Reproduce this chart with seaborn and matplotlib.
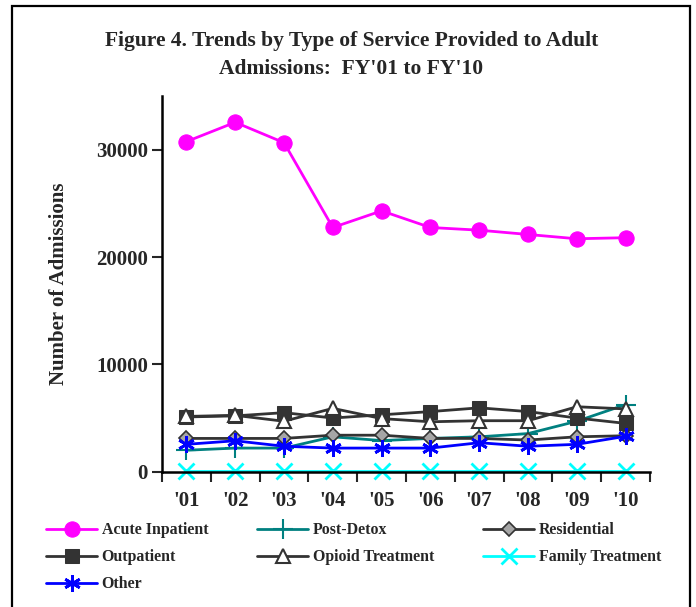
import matplotlib
matplotlib.use("Agg")
import matplotlib.pyplot as plt
import seaborn as sns
import pandas as pd
from matplotlib.patches import Rectangle

# --- Data ---
years = ["'01", "'02", "'03", "'04", "'05", "'06", "'07", "'08", "'09", "'10"]
acute_inpatient = [30750, 32550, 30650, 22750, 24300, 22750, 22500, 22100, 21700, 21800]
post_detox = [2000, 2200, 2200, 3250, 2900, 3100, 3250, 3550, 4700, 6250]
residential = [3100, 3100, 3100, 3400, 3400, 3100, 3100, 2950, 3250, 3350]
outpatient = [5100, 5200, 5500, 5000, 5300, 5600, 5950, 5600, 5000, 4500]
opioid_treatment = [5150, 5250, 4700, 5900, 4950, 4650, 4750, 4750, 6050, 5850]
family_treatment = [60, 60, 60, 60, 60, 60, 60, 60, 60, 60]
other = [2550, 2880, 2370, 2200, 2200, 2200, 2700, 2370, 2550, 3300]

# legend order is column-wise in matplotlib, so list follows that
series = [
    ("Acute Inpatient", acute_inpatient, dict(color="#FF00FF", marker="o", markersize=11,
                                              markerfacecolor="#FF00FF", markeredgecolor="#FF00FF")),
    ("Outpatient", outpatient, dict(color="#333333", marker="s", markersize=10,
                                    markerfacecolor="#333333", markeredgecolor="#333333")),
    ("Other", other, dict(color="#0000FF", marker=(6, 2, 0), markersize=12,
                          markeredgecolor="#0000FF", markeredgewidth=2)),
    ("Post-Detox", post_detox, dict(color="#008080", marker="+", markersize=14,
                                    markeredgecolor="#008080", markeredgewidth=1.5)),
    ("Opioid Treatment", opioid_treatment, dict(color="#333333", marker="^", markersize=10,
                                                markerfacecolor="white", markeredgecolor="#333333",
                                                markeredgewidth=1.5)),
    ("Residential", residential, dict(color="#333333", marker="D", markersize=7,
                                      markerfacecolor="#A6A6A6", markeredgecolor="#333333",
                                      markeredgewidth=1.2)),
    ("Family Treatment", family_treatment, dict(color="#00FFFF", marker="x", markersize=11,
                                                markeredgecolor="#00FFFF", markeredgewidth=2)),
]

# draw order (back to front) as in the original
draw_order = ["Acute Inpatient", "Post-Detox", "Residential", "Outpatient",
              "Opioid Treatment", "Family Treatment", "Other"]

sns.set_style("white")
plt.rcParams["font.family"] = ["Liberation Serif", "DejaVu Serif"]
plt.rcParams["font.weight"] = "bold"

fig = plt.figure(figsize=(6.96, 6.07), dpi=100)
ax = fig.add_axes([162 / 696, 1 - 471.7 / 607, (650 - 162) / 696, (471.7 - 96) / 607])

pos = list(range(len(years)))
handles = {}
for name in draw_order:
    vals, style = next((v, s) for n, v, s in series if n == name)
    df = pd.DataFrame({"x": pos, "y": vals})
    sns.lineplot(data=df, x="x", y="y", ax=ax, linewidth=2, label=name, legend=False,
                 clip_on=False, **style)
    handles[name] = ax.lines[-1]

ax.set_xlim(-0.5, 9.5)
ax.set_ylim(0, 35000)
ax.set_yticks([0, 10000, 20000, 30000])
ax.set_yticklabels(["0", "10000", "20000", "30000"])

# ticks between categories, labels at category centres
ax.set_xticks([i - 0.5 for i in range(11)])
ax.set_xticklabels([])
ax.set_xticks(pos, minor=True)
ax.set_xticklabels(years, minor=True)
ax.tick_params(axis="x", which="major", direction="out", length=7, width=1.5, bottom=True)
ax.tick_params(axis="x", which="minor", length=0, pad=14, labelsize=15)
ax.tick_params(axis="y", direction="out", length=7, width=1.5, left=True, labelsize=15, pad=3)
for t in ax.get_xticklabels(minor=True) + ax.get_yticklabels():
    t.set_fontweight("bold")

for side in ["top", "right"]:
    ax.spines[side].set_visible(False)
for side in ["left", "bottom"]:
    ax.spines[side].set_color("black")
    ax.spines[side].set_linewidth(1.8)

ax.set_xlabel("")
ax.set_ylabel("Number of Admissions", fontsize=15, fontweight="bold")
ax.yaxis.set_label_coords((69 - 162) / (650 - 162), 0.5)

fig.text(0.505, 1 - 41 / 607, "Figure 4. Trends by Type of Service Provided to Adult",
         ha="center", va="center", fontsize=15.5, fontweight="bold")
fig.text(0.505, 1 - 69 / 607, "Admissions:  FY'01 to FY'10",
         ha="center", va="center", fontsize=15.5, fontweight="bold")

legend_names = [n for n, _, _ in series]
fig.legend([handles[n] for n in legend_names], legend_names, ncol=3,
           loc="upper left", bbox_to_anchor=(40 / 696, 1 - 516 / 607),
           frameon=False, prop={"size": 11.4, "weight": "bold"},
           handlelength=3.2, handletextpad=0.3, columnspacing=3.1,
           labelspacing=0.7, borderaxespad=0)

# outer frame of the figure
fig.patches.append(Rectangle((12 / 696, -0.02), (690 - 12) / 696, 1.02 - 6 / 607,
                             transform=fig.transFigure, fill=False,
                             edgecolor="black", linewidth=1.6))

fig.savefig("out.png", dpi=100)
